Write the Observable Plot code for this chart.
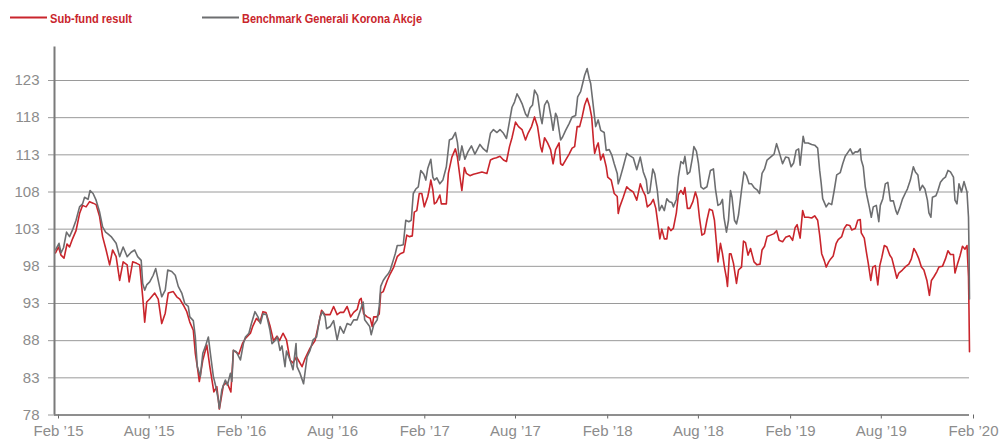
<!DOCTYPE html>
<html>
<head>
<meta charset="utf-8">
<script src="https://cdn.jsdelivr.net/npm/d3@7"></script>
<script src="https://cdn.jsdelivr.net/npm/@observablehq/plot@0.6"></script>
<style>
  html, body { margin: 0; padding: 0; background: #fff; }
  svg { display: block; }
</style>
</head>
<body>
<div id="legend"></div>
<div id="chart"></div>
<script>
const seriesNames = ["Sub-fund result", "Benchmark Generali Korona Akcje"];
const seriesColors = ["#c9252c", "#6d6e70"];

const yTicks = [78, 83, 88, 93, 98, 103, 108, 113, 118, 123];
const xTickDates = ["2015-02-01","2015-08-01","2016-02-01","2016-08-01","2017-02-01","2017-08-01","2018-02-01","2018-08-01","2019-02-01","2019-08-01","2020-02-01"];
const xTickLabels = ["Feb \u201915","Aug \u201915","Feb \u201916","Aug \u201916","Feb \u201917","Aug \u201917","Feb \u201918","Aug \u201918","Feb \u201919","Aug \u201919","Feb \u201920"];

const benchDates = ["2015-02-03","2015-02-10","2015-02-14","2015-02-19","2015-02-25","2015-03-03","2015-03-09","2015-03-16","2015-03-23","2015-03-29","2015-04-02","2015-04-09","2015-04-13","2015-04-19","2015-04-25","2015-05-02","2015-05-08","2015-05-14","2015-05-18","2015-05-25","2015-06-04","2015-06-11","2015-06-18","2015-06-26","2015-07-04","2015-07-11","2015-07-17","2015-07-24","2015-07-27","2015-07-31","2015-08-04","2015-08-10","2015-08-17","2015-08-22","2015-08-27","2015-09-03","2015-09-10","2015-09-15","2015-09-23","2015-09-30","2015-10-06","2015-10-13","2015-10-19","2015-10-26","2015-10-29","2015-11-05","2015-11-09","2015-11-13","2015-11-19","2015-11-24","2015-11-29","2015-12-05","2015-12-10","2015-12-15","2015-12-20","2015-12-25","2015-12-27","2016-01-01","2016-01-08","2016-01-12","2016-01-18","2016-01-21","2016-01-24","2016-01-30","2016-02-07","2016-02-13","2016-02-17","2016-02-24","2016-02-29","2016-03-07","2016-03-13","2016-03-18","2016-03-23","2016-03-30","2016-04-06","2016-04-10","2016-04-16","2016-04-21","2016-04-26","2016-04-30","2016-05-06","2016-05-09","2016-05-16","2016-05-22","2016-05-28","2016-05-30","2016-06-05","2016-06-12","2016-06-19","2016-06-25","2016-07-01","2016-07-08","2016-07-15","2016-07-20","2016-07-25","2016-07-28","2016-08-04","2016-08-11","2016-08-18","2016-08-24","2016-08-31","2016-09-07","2016-09-14","2016-09-20","2016-09-27","2016-10-03","2016-10-09","2016-10-12","2016-10-22","2016-10-25","2016-10-30","2016-11-06","2016-11-10","2016-11-13","2016-11-18","2016-11-23","2016-11-28","2016-12-02","2016-12-08","2016-12-12","2016-12-16","2016-12-22","2016-12-28","2017-01-02","2017-01-08","2017-01-13","2017-01-17","2017-01-22","2017-01-27","2017-02-01","2017-02-07","2017-02-11","2017-02-15","2017-02-21","2017-02-25","2017-02-28","2017-03-05","2017-03-11","2017-03-17","2017-03-24","2017-03-30","2017-04-05","2017-04-11","2017-04-15","2017-04-19","2017-04-24","2017-04-30","2017-05-06","2017-05-13","2017-05-20","2017-05-30","2017-06-06","2017-06-13","2017-06-20","2017-06-26","2017-07-03","2017-07-09","2017-07-16","2017-07-22","2017-07-28","2017-08-02","2017-08-07","2017-08-12","2017-08-17","2017-08-22","2017-08-29","2017-09-02","2017-09-07","2017-09-12","2017-09-16","2017-09-22","2017-09-28","2017-10-01","2017-10-06","2017-10-11","2017-10-14","2017-10-19","2017-10-23","2017-10-28","2017-10-31","2017-11-07","2017-11-11","2017-11-17","2017-11-24","2017-11-30","2017-12-07","2017-12-11","2017-12-17","2017-12-21","2017-12-25","2017-12-30","2018-01-03","2018-01-06","2018-01-10","2018-01-13","2018-01-16","2018-01-21","2018-01-26","2018-02-02","2018-02-06","2018-02-12","2018-02-17","2018-02-22","2018-02-28","2018-03-02","2018-03-05","2018-03-12","2018-03-19","2018-03-25","2018-04-01","2018-04-08","2018-04-15","2018-04-21","2018-04-27","2018-04-30","2018-05-04","2018-05-10","2018-05-14","2018-05-19","2018-05-23","2018-05-28","2018-06-02","2018-06-07","2018-06-12","2018-06-17","2018-06-20","2018-06-26","2018-06-30","2018-07-05","2018-07-10","2018-07-13","2018-07-18","2018-07-23","2018-07-28","2018-07-31","2018-08-05","2018-08-09","2018-08-14","2018-08-19","2018-08-26","2018-09-02","2018-09-08","2018-09-12","2018-09-17","2018-09-22","2018-09-26","2018-09-29","2018-10-04","2018-10-08","2018-10-12","2018-10-15","2018-10-20","2018-10-24","2018-10-28","2018-11-03","2018-11-08","2018-11-13","2018-11-18","2018-11-23","2018-11-28","2018-12-04","2018-12-09","2018-12-14","2018-12-19","2018-12-24","2018-12-31","2019-01-07","2019-01-12","2019-01-17","2019-01-24","2019-01-30","2019-02-05","2019-02-10","2019-02-15","2019-02-20","2019-02-25","2019-02-28","2019-03-06","2019-03-09","2019-03-16","2019-03-23","2019-03-29","2019-04-04","2019-04-08","2019-04-11","2019-04-14","2019-04-21","2019-04-26","2019-05-02","2019-05-07","2019-05-12","2019-05-19","2019-05-24","2019-05-29","2019-06-03","2019-06-08","2019-06-13","2019-06-18","2019-06-23","2019-06-28","2019-06-30","2019-07-04","2019-07-08","2019-07-11","2019-07-16","2019-07-20","2019-07-24","2019-07-30","2019-08-04","2019-08-07","2019-08-12","2019-08-17","2019-08-22","2019-08-27","2019-09-02","2019-09-07","2019-09-10","2019-09-15","2019-09-20","2019-09-27","2019-09-30","2019-10-06","2019-10-12","2019-10-16","2019-10-21","2019-10-25","2019-10-30","2019-11-04","2019-11-09","2019-11-12","2019-11-16","2019-11-19","2019-11-26","2019-11-30","2019-12-05","2019-12-11","2019-12-15","2019-12-20","2019-12-25","2019-12-31","2020-01-03","2020-01-07","2020-01-11","2020-01-16","2020-01-21","2020-01-27","2020-01-30","2020-01-31","2020-02-01"];
const benchValues = [100.2,101.1,99.8,100.5,102.6,102,102.9,104.2,106,106.4,107.3,107,108.2,107.8,106.9,105.3,103.3,102.6,102.4,102,101.1,99.3,100.6,99.3,99.9,100.2,99.3,98.8,95.7,94.8,95.5,95.9,96.8,97.7,96.1,93.9,94.8,97.5,97.3,96.8,95.3,94.4,93,92.6,91.2,90.7,88.5,84.5,83.2,86.3,87.2,88.5,85.8,83.2,81.8,80,78.9,81.4,82.7,82,83.6,82.5,86.7,86.5,85.4,87.6,88.5,89,90.3,91.9,91.2,90.3,91.6,91.5,89.4,87.6,88,88.5,86.7,87.3,84.5,86.6,85.4,84.1,87.6,84.5,83.6,82.2,85.8,86.7,88.1,88.5,91.2,91.9,91.2,89.6,89.9,90.7,88.1,89.9,89,90.3,90.1,90.8,90.8,92,93.2,90.8,89.9,88.8,90.1,90.8,92.6,95.3,96.1,96.6,97,97.5,98.8,99.7,100.8,100.8,100.9,104.2,104,104.2,107.8,108.4,108.7,110.9,110.4,109.6,111.2,112.4,110,109.6,109.9,109.1,109.6,111.4,115,115.2,116,114.7,112.3,114.2,112.4,113.4,114.2,113.1,114.4,113.8,113.4,115.9,116.4,116,116.4,115.9,115.2,117.5,119.4,120.1,121.2,120.6,119.9,118.5,118.1,119.3,119.7,121.7,121,118.1,117.2,119.7,120.3,119.9,118.1,116.3,118.6,118.1,115,115.4,116.3,117.2,118.1,118.3,120.8,121.5,122.6,123.7,124.6,123.3,122.6,120.3,118.5,116.8,117.7,116.3,116,113.6,113.7,113,111.8,110.5,109.1,109.7,111.4,113.2,112.9,112.6,111,112.7,110.7,109.6,107.8,108,111.1,110.4,108.2,105.5,106.2,105.5,107.1,106.7,106.6,106,107,110,112.1,111.8,112.8,110.4,110.7,112.6,114.1,113.5,111.9,108.7,108.4,108.7,110.9,111.1,108.4,106.2,106.4,107,104.6,102.6,104.2,108.2,107.3,104.2,103.7,104.9,108.2,110.7,110.2,109.1,109.1,108.6,108.3,107.8,110.5,111.1,112.3,112.7,113.1,114.5,113.4,111.8,112.7,112.6,111.4,111.9,113.6,113.8,111.6,115.5,114.6,114.6,114.4,114.3,113.9,110.9,109.2,107.1,106,106.5,106.3,108.2,110.3,110.6,111.8,112.8,113.3,113.8,113.1,113.4,113.4,113.8,112.3,111.4,108.7,107.6,106,104.6,106,106.2,104,106.2,107.1,109.1,109.3,106.8,106.8,105.5,105,105.9,107,108,108.4,109.6,111.4,110.7,110.3,108.2,108.9,108.4,106.9,105.2,104.6,107.3,107.5,108.2,109.3,109.8,110,110.9,110.7,110,106.9,106.4,109.1,108,109.4,108,104.6,100.2,93.6];

const fundDates = ["2015-02-03","2015-02-09","2015-02-14","2015-02-20","2015-02-26","2015-03-03","2015-03-09","2015-03-16","2015-03-23","2015-03-29","2015-04-05","2015-04-12","2015-04-19","2015-04-25","2015-05-02","2015-05-08","2015-05-15","2015-05-22","2015-05-28","2015-06-04","2015-06-11","2015-06-18","2015-06-26","2015-06-30","2015-07-07","2015-07-15","2015-07-21","2015-07-27","2015-07-31","2015-08-04","2015-08-10","2015-08-20","2015-08-27","2015-09-03","2015-09-10","2015-09-16","2015-09-26","2015-10-03","2015-10-09","2015-10-16","2015-10-23","2015-10-29","2015-11-05","2015-11-09","2015-11-13","2015-11-17","2015-11-24","2015-12-02","2015-12-08","2015-12-16","2015-12-22","2015-12-27","2016-01-04","2016-01-11","2016-01-19","2016-01-24","2016-02-04","2016-02-11","2016-02-17","2016-02-27","2016-03-03","2016-03-10","2016-03-17","2016-03-23","2016-03-29","2016-04-06","2016-04-13","2016-04-20","2016-04-25","2016-05-02","2016-05-09","2016-05-16","2016-05-22","2016-05-29","2016-06-09","2016-06-15","2016-06-25","2016-07-05","2016-07-11","2016-07-18","2016-07-25","2016-08-04","2016-08-11","2016-08-18","2016-08-24","2016-08-31","2016-09-07","2016-09-14","2016-09-20","2016-09-27","2016-10-02","2016-10-05","2016-10-10","2016-10-17","2016-10-23","2016-10-27","2016-10-30","2016-11-05","2016-11-10","2016-11-13","2016-11-18","2016-11-26","2016-12-02","2016-12-09","2016-12-16","2016-12-22","2016-12-29","2017-01-04","2017-01-09","2017-01-15","2017-01-19","2017-01-24","2017-01-29","2017-02-03","2017-02-08","2017-02-15","2017-02-18","2017-02-21","2017-02-25","2017-02-28","2017-03-04","2017-03-11","2017-03-14","2017-03-24","2017-03-28","2017-04-04","2017-04-11","2017-04-15","2017-04-21","2017-04-24","2017-04-29","2017-05-03","2017-05-10","2017-05-17","2017-05-23","2017-06-03","2017-06-13","2017-06-20","2017-06-26","2017-07-02","2017-07-09","2017-07-16","2017-07-22","2017-07-28","2017-08-02","2017-08-09","2017-08-15","2017-08-22","2017-08-29","2017-09-03","2017-09-10","2017-09-16","2017-09-22","2017-09-28","2017-10-01","2017-10-06","2017-10-12","2017-10-18","2017-10-23","2017-10-28","2017-11-04","2017-11-07","2017-11-11","2017-11-17","2017-11-24","2017-11-30","2017-12-05","2017-12-10","2017-12-15","2017-12-20","2017-12-25","2017-12-30","2018-01-04","2018-01-08","2018-01-12","2018-01-14","2018-01-18","2018-01-21","2018-01-23","2018-01-26","2018-01-31","2018-02-06","2018-02-09","2018-02-16","2018-02-22","2018-02-28","2018-03-02","2018-03-05","2018-03-12","2018-03-19","2018-03-25","2018-04-01","2018-04-08","2018-04-15","2018-04-20","2018-04-25","2018-04-29","2018-05-06","2018-05-11","2018-05-16","2018-05-21","2018-05-24","2018-05-28","2018-06-02","2018-06-07","2018-06-10","2018-06-15","2018-06-20","2018-06-26","2018-06-30","2018-07-05","2018-07-10","2018-07-13","2018-07-18","2018-07-23","2018-07-29","2018-08-03","2018-08-07","2018-08-11","2018-08-16","2018-08-21","2018-08-26","2018-08-31","2018-09-06","2018-09-10","2018-09-14","2018-09-17","2018-09-22","2018-09-26","2018-09-30","2018-10-04","2018-10-06","2018-10-10","2018-10-13","2018-10-18","2018-10-24","2018-10-28","2018-11-03","2018-11-07","2018-11-11","2018-11-16","2018-11-21","2018-11-28","2018-12-04","2018-12-10","2018-12-14","2018-12-19","2018-12-24","2018-12-31","2019-01-07","2019-01-12","2019-01-17","2019-01-24","2019-01-30","2019-02-07","2019-02-13","2019-02-18","2019-02-22","2019-02-28","2019-03-05","2019-03-09","2019-03-16","2019-03-23","2019-03-29","2019-04-04","2019-04-08","2019-04-12","2019-04-17","2019-04-21","2019-04-26","2019-04-30","2019-05-05","2019-05-11","2019-05-15","2019-05-22","2019-05-27","2019-06-01","2019-06-07","2019-06-11","2019-06-18","2019-06-23","2019-06-28","2019-06-30","2019-07-06","2019-07-10","2019-07-14","2019-07-19","2019-07-23","2019-07-28","2019-08-02","2019-08-06","2019-08-10","2019-08-15","2019-08-20","2019-08-26","2019-08-30","2019-09-05","2019-09-09","2019-09-13","2019-09-20","2019-09-27","2019-10-03","2019-10-08","2019-10-13","2019-10-18","2019-10-23","2019-10-28","2019-11-02","2019-11-08","2019-11-13","2019-11-17","2019-11-22","2019-11-28","2019-12-02","2019-12-09","2019-12-15","2019-12-20","2019-12-25","2019-12-31","2020-01-03","2020-01-08","2020-01-13","2020-01-18","2020-01-23","2020-01-27","2020-01-30","2020-01-31","2020-02-01"];
const fundValues = [99.8,100.6,99.5,99.1,101,100.6,101.7,102.8,105.1,106.2,106,106.7,106.5,106.3,104.7,102,100.2,98.2,100.2,99.3,96.1,98.6,98.2,95.9,98.6,98.4,98.2,93.9,90.5,93.2,93.6,94.4,93.6,90.3,91.7,94.4,94.6,93.9,93.6,92.8,91.9,90.5,89.4,86.3,84.5,82.5,85.4,87.4,84.5,81.1,81.8,78.8,82,82.4,81.1,86.7,86.2,87.6,88.3,89,90,91,90.5,91.9,91.8,90,88,88.6,88,89,88.1,85.4,85,85.8,84.5,85.6,87,88,89.9,92.1,91.5,91.5,92.6,91.5,91.8,91.8,92.6,91.2,91.8,92.2,93.5,93.7,91.6,91.2,91,89.9,91.2,91.2,91.6,94.4,94.6,96.1,97,97.9,99.3,99.7,99.9,102.2,102,102.1,105.3,105.5,107.8,107.8,106,107.4,108.4,109.6,108.3,106.4,106.6,107.6,106.4,106.4,110.5,112.7,113.8,112.7,109.6,108.2,111.3,110.5,110.2,110.4,110.5,110.7,110.5,112.3,112.5,112.6,112.8,112.3,112.1,114.1,115.3,117.4,116.8,116.4,115,115.9,116.8,118.1,116.8,114.1,113.4,115.3,114.6,113.7,111.8,113.7,114.6,111.8,111.6,112.3,113.1,113.9,114.1,116.8,116.8,118.1,119.7,120.6,119.5,118.1,114.5,113.2,114.1,114.6,113.7,112.3,113.1,111.4,110,109.6,107.8,107.4,105.1,106,107.3,108.7,108.3,108,106.9,109.1,108.2,107.5,106,106.4,107,105.8,103.3,101.7,103,101.7,101.7,103.3,102.8,103.1,105.2,107.6,108.2,107.7,108.6,105.8,105.8,106.7,108,107.1,104.6,102.2,102.4,104.2,105.7,105.5,104.2,101.1,98.6,101.1,99.7,97.9,96.4,95.3,99.7,99.7,98.4,95.7,97.5,97.9,101.4,101.2,99.5,100.4,98.6,98.2,98.3,100.2,100.7,102,102.2,102.4,102.8,101.5,101.3,101.9,102.1,101.5,103.2,103.6,101.8,105.5,104.6,104.6,104.5,104.8,104.2,102.2,99.7,98.8,97.9,98.6,99,99.4,101.1,101.6,102,103.1,103.6,103.5,102.9,103.1,104.2,104.3,102.5,101.8,100,98.4,96.1,97.9,98.1,95.5,98.1,99.2,100.8,100.6,99.5,99.1,97.5,96.4,97.1,97.5,98,98.3,99,100.4,99.8,99,97.9,97.5,96.1,94.1,96.1,96.6,97.3,97.9,98,99,100.1,99.6,99.6,97.1,98.3,99.4,100.7,100.3,100.8,96.6,92.1,86.5];

const parse = d3.utcParse("%Y-%m-%d");
const fund = fundDates.map((d, i) => ({date: parse(d), value: fundValues[i]}));
const bench = benchDates.map((d, i) => ({date: parse(d), value: benchValues[i]}));
const xTicks = xTickDates.map(parse);
const labelByTime = new Map(xTicks.map((d, i) => [+d, xTickLabels[i]]));

// Legend (HTML/SVG above the chart)
const leg = d3.select("#legend").append("svg").attr("width", 1001).attr("height", 34);
const legItems = [
  {x: 10, len: 37, tx: 50, tw: 82},
  {x: 202, len: 37, tx: 242, tw: 180}
];
legItems.forEach((it, i) => {
  leg.append("line").attr("x1", it.x).attr("x2", it.x + it.len).attr("y1", 17.5).attr("y2", 17.5)
    .attr("stroke", seriesColors[i]).attr("stroke-width", 2);
  leg.append("text").attr("x", it.tx).attr("y", 23)
    .attr("fill", "#c9252c")
    .attr("font-family", "'Liberation Sans Narrow', 'Arial Narrow', 'Liberation Sans', Arial, sans-serif")
    .attr("font-weight", "bold").attr("font-size", 13.3)
    .attr("textLength", it.tw).attr("lengthAdjust", "spacingAndGlyphs")
    .text(seriesNames[i]);
});

const chart = Plot.plot({
  width: 1001,
  height: 405,
  marginLeft: 54,
  marginRight: 32,
  marginTop: 12.55,
  marginBottom: 24.5,
  style: {fontFamily: "'Liberation Sans', Arial, sans-serif", fontSize: "15px", background: "#fff"},
  x: {type: "utc", domain: [xTicks[0], xTicks[xTicks.length - 1]]},
  y: {domain: [78, 127.5]},
  marks: [
    Plot.gridY(yTicks, {stroke: "#9a9a9a", strokeOpacity: 1, strokeWidth: 1}),
    Plot.axisY({ticks: yTicks, tickSize: 6, tickPadding: 9, fontSize: 15, stroke: "#9a9a9a", strokeOpacity: 1, fill: "#8c8c8c", label: null}),
    Plot.axisX({ticks: xTicks, tickFormat: d => labelByTime.get(+d), tickSize: 4, tickPadding: 6.5, fontSize: 15, stroke: "#666", fill: "#8c8c8c", dx: 4, label: null}),
    Plot.line(fund, {x: "date", y: "value", stroke: seriesColors[0], strokeWidth: 1.6}),
    Plot.line(bench, {x: "date", y: "value", stroke: seriesColors[1], strokeWidth: 1.6}),
    Plot.ruleY([78], {stroke: "#7a7a7a", strokeWidth: 1.5}),
    Plot.ruleX([xTicks[0]], {y1: 78, y2: 127.5, stroke: "#7a7a7a", strokeWidth: 2})
  ]
});
document.getElementById("chart").appendChild(chart);
</script>
</body>
</html>
